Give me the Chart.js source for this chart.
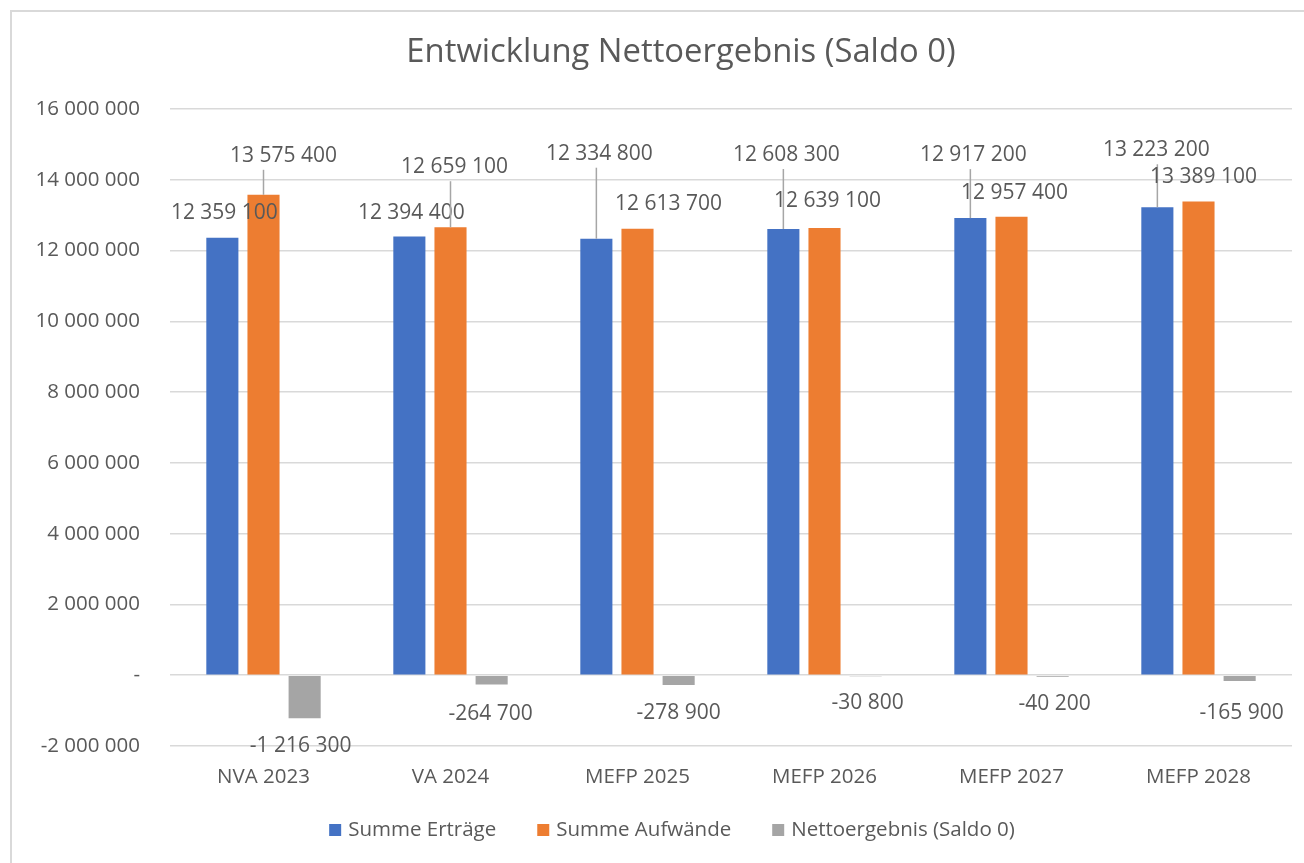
<!DOCTYPE html>
<html>
<head>
<meta charset="utf-8">
<script src="https://cdn.jsdelivr.net/npm/chart.js@4.4.1/dist/chart.umd.min.js"></script>
<style>
  html, body { margin: 0; padding: 0; background: #fff; overflow: hidden; }
  #frame { position: absolute; left: 10px; top: 10px; width: 1400px; height: 900px; border: 2px solid #d9d9d9; box-sizing: border-box; }
  #wrap { position: absolute; left: 0; top: 0; width: 1304px; height: 863px; }
</style>
</head>
<body>
<div id="frame"></div>
<div id="wrap"><canvas id="chart"></canvas></div>
<script>
const categories = ["NVA 2023", "VA 2024", "MEFP 2025", "MEFP 2026", "MEFP 2027", "MEFP 2028"];
const summeErtraege = [12359100, 12394400, 12334800, 12608300, 12917200, 13223200];
const summeAufwaende = [13575400, 12659100, 12613700, 12639100, 12957400, 13389100];
const nettoergebnis = [-1216300, -264700, -278900, -30800, -40200, -165900];
const yMin = -2000000;
const yMax = 16000000;
const yStep = 2000000;
const chartTitle = "Entwicklung Nettoergebnis (Saldo 0)";

// label offsets (px) from the bar end, as the labels were dragged in the original
const shiftErtraege = [[2, -25], [2, -24], [3, -85], [3, -74], [3, -63], [-1, -57]];
const shiftAufwaende = [[20, -39], [4, -60], [31, -25], [3, -27], [3, -24], [5, -24]];
const shiftNetto = [[-4, 28], [-1, 29], [0, 28], [2, 27], [2, 27], [2, 32]];

const textColor = "#595959";
const fontFamily = "'Open Sans', sans-serif";

function fmt(n) {
  if (n === 0) return "-";
  const s = String(Math.abs(n)).replace(/\B(?=(\d{3})+(?!\d))/g, " ");
  return (n < 0 ? "-" : "") + s;
}

const valueLabels = {
  id: "valueLabels",
  afterDatasetsDraw(chart) {
    const ctx = chart.ctx;
    ctx.save();
    ctx.font = "21px " + fontFamily;
    ctx.textAlign = "center";
    ctx.textBaseline = "middle";
    chart.data.datasets.forEach((ds, di) => {
      const meta = chart.getDatasetMeta(di);
      meta.data.forEach((bar, i) => {
        const [dx, dy] = ds.labelShift[i];
        const x = bar.x + dx;
        const y = bar.y + dy;
        const text = fmt(ds.data[i]);
        if (Math.abs(dy) > 35) {
          const w = ctx.measureText(text).width;
          const sx = Math.min(Math.max(bar.x, x - w / 2), x + w / 2);
          ctx.strokeStyle = "#a6a6a6";
          ctx.lineWidth = 1.5;
          ctx.beginPath();
          ctx.moveTo(sx, y + 14);
          ctx.lineTo(bar.x, bar.y);
          ctx.stroke();
        }
        ctx.fillStyle = textColor;
        ctx.fillText(text, x, y);
      });
    });
    ctx.restore();
  }
};

// title and legend drawn Excel-style (centred off the plot, tight box-to-text gap)
const header = {
  id: "header",
  afterDraw(chart) {
    const ctx = chart.ctx;
    ctx.save();
    ctx.fillStyle = textColor;
    ctx.textBaseline = "middle";
    ctx.textAlign = "center";
    ctx.font = "32.8px " + fontFamily;
    ctx.fillText(chartTitle, 681, 53);

    ctx.font = "20.5px " + fontFamily;
    ctx.textAlign = "left";
    const box = 12, gap = 7, spacing = 41;
    const items = chart.data.datasets.map((ds) => ({
      text: ds.label,
      color: ds.backgroundColor,
      w: box + gap + ctx.measureText(ds.label).width,
    }));
    const total = items.reduce((s, it) => s + it.w, 0) + spacing * (items.length - 1);
    let x = 672 - total / 2;
    const y = 830;
    items.forEach((it) => {
      ctx.fillStyle = it.color;
      ctx.fillRect(x, y - box / 2, box, box);
      ctx.fillStyle = textColor;
      ctx.fillText(it.text, x + box + gap, y);
      x += it.w + spacing;
    });
    ctx.restore();
  }
};

new Chart(document.getElementById("chart"), {
  type: "bar",
  data: {
    labels: categories,
    datasets: [
      {
        label: "Summe Erträge",
        data: summeErtraege,
        backgroundColor: "#4472c4",
        labelShift: shiftErtraege,
      },
      {
        label: "Summe Aufwände",
        data: summeAufwaende,
        backgroundColor: "#ed7d31",
        labelShift: shiftAufwaende,
      },
      {
        label: "Nettoergebnis (Saldo 0)",
        data: nettoergebnis,
        backgroundColor: "#a5a5a5",
        labelShift: shiftNetto,
      },
    ],
  },
  options: {
    responsive: true,
    maintainAspectRatio: false,
    animation: false,
    categoryPercentage: 0.66,
    barPercentage: 0.78,
    layout: {
      padding: { left: 0, right: 12, top: 109, bottom: 72 },
    },
    plugins: {
      title: { display: false },
      legend: { display: false },
      tooltip: { enabled: false },
    },
    scales: {
      x: {
        grid: { display: false },
        border: { display: false },
        ticks: {
          color: textColor,
          font: { family: fontFamily, size: 20.5 },
          padding: 11,
        },
        afterFit(scale) {
          scale.height = 45;
        },
      },
      y: {
        min: yMin,
        max: yMax,
        grid: { color: "#d9d9d9", lineWidth: 1.5, drawTicks: false },
        border: { display: false },
        ticks: {
          stepSize: yStep,
          color: textColor,
          font: { family: fontFamily, size: 20.5 },
          padding: 30,
          callback: (v) => fmt(v),
        },
        afterFit(scale) {
          scale.width = 170;
        },
      },
    },
  },
  plugins: [valueLabels, header],
});
</script>
</body>
</html>
